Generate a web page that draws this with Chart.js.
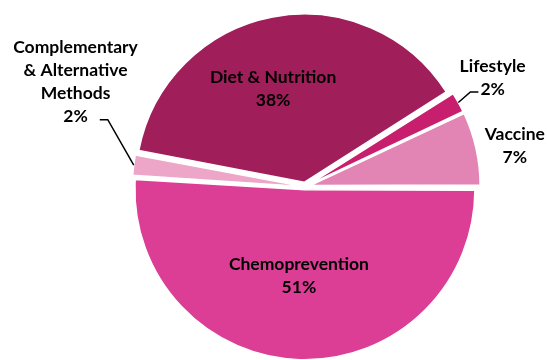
<!DOCTYPE html>
<html>
<head>
<meta charset="utf-8">
<script src="https://cdn.jsdelivr.net/npm/chart.js@4.4.0/dist/chart.umd.min.js"></script>
<style>
  html, body { margin: 0; padding: 0; background: #fff; overflow: hidden; }
  #box { width: 547px; height: 360px; overflow: hidden; }
</style>
</head>
<body>
<div id="box"><canvas id="pie" width="547" height="380"></canvas></div>
<script>
// slices, clockwise from 3 o'clock
const categories = ['Chemoprevention', 'Complementary & Alternative Methods', 'Diet & Nutrition', 'Lifestyle', 'Vaccine'];
const shares = [51, 2, 38, 2, 7];
const labelLines = [['Chemoprevention'], ['Complementary', '& Alternative', 'Methods'], ['Diet & Nutrition'], ['Lifestyle'], ['Vaccine']];

const sliceColors = ['#dc3e96', '#eda5c8', '#a01e5a', '#c81e6e', '#e285b4'];
const explode = [12, 12, 18, 17, 21];
// label block centre: [angle in degrees, fraction of radius] from the pie centre
const labelPlace = [[93.9, 0.535], [204.5, 1.51], [251.9, 0.615], [329.8, 1.30], [-11, 1.28]];
// leader lines: which side of the last line the line leaves, and gap to the text
const leaders = { 1: { side: 1, gap: 12, run: 8 }, 3: { side: -1, gap: 2, run: 8 } };

const FONT = 'bold 17.5px Lato, "Open Sans", sans-serif';
const LINE_H = 23;

// how far chart.js actually moves an exploded arc
function arcShift(arc, off) {
    const circ = arc.endAngle - arc.startAngle;
    const fix = 1 - Math.sin(Math.min(Math.PI, circ));
    return off / 4 * (1 + fix);
}

const labelPlugin = {
    id: 'sliceLabels',
    afterDraw(chart) {
        const ctx = chart.ctx;
        const arcs = chart.getDatasetMeta(0).data;
        ctx.save();
        ctx.font = FONT;
        ctx.fillStyle = '#000';
        ctx.textAlign = 'center';
        ctx.textBaseline = 'middle';
        arcs.forEach((arc, i) => {
            const r = arc.outerRadius;
            const a = labelPlace[i][0] * Math.PI / 180;
            const cx = arc.x + Math.cos(a) * r * labelPlace[i][1];
            const cy = arc.y + Math.sin(a) * r * labelPlace[i][1];
            const lines = labelLines[i].concat([shares[i] + '%']);
            const top = cy - (lines.length - 1) * LINE_H / 2;
            lines.forEach((t, k) => ctx.fillText(t, cx, top + k * LINE_H));

            const ld = leaders[i];
            if (ld) {
                const last = lines[lines.length - 1];
                const w = ctx.measureText(last).width;
                const ly = top + (lines.length - 1) * LINE_H + 3;
                const ex = cx + ld.side * (w / 2 + ld.gap);
                const bx = ex + ld.side * ld.run;
                const mid = (arc.startAngle + arc.endAngle) / 2;
                const d = arcShift(arc, explode[i]) + r;
                ctx.beginPath();
                ctx.strokeStyle = '#000';
                ctx.lineWidth = 1.5;
                ctx.moveTo(ex, ly);
                ctx.lineTo(bx, ly);
                ctx.lineTo(arc.x + Math.cos(mid) * d, arc.y + Math.sin(mid) * d);
                ctx.stroke();
            }
        });
        ctx.restore();
    }
};

new Chart(document.getElementById('pie').getContext('2d'), {
    type: 'pie',
    data: {
        labels: categories,
        datasets: [{
            data: shares,
            backgroundColor: sliceColors,
            borderColor: '#ffffff',
            borderWidth: 1.5,
            offset: explode
        }]
    },
    options: {
        responsive: false,
        animation: false,
        devicePixelRatio: 1,
        rotation: 90,
        layout: { padding: { left: 63, top: 8.5, right: 0, bottom: 15 } },
        plugins: {
            legend: { display: false },
            tooltip: { enabled: false }
        }
    },
    plugins: [labelPlugin]
});
</script>
</body>
</html>
